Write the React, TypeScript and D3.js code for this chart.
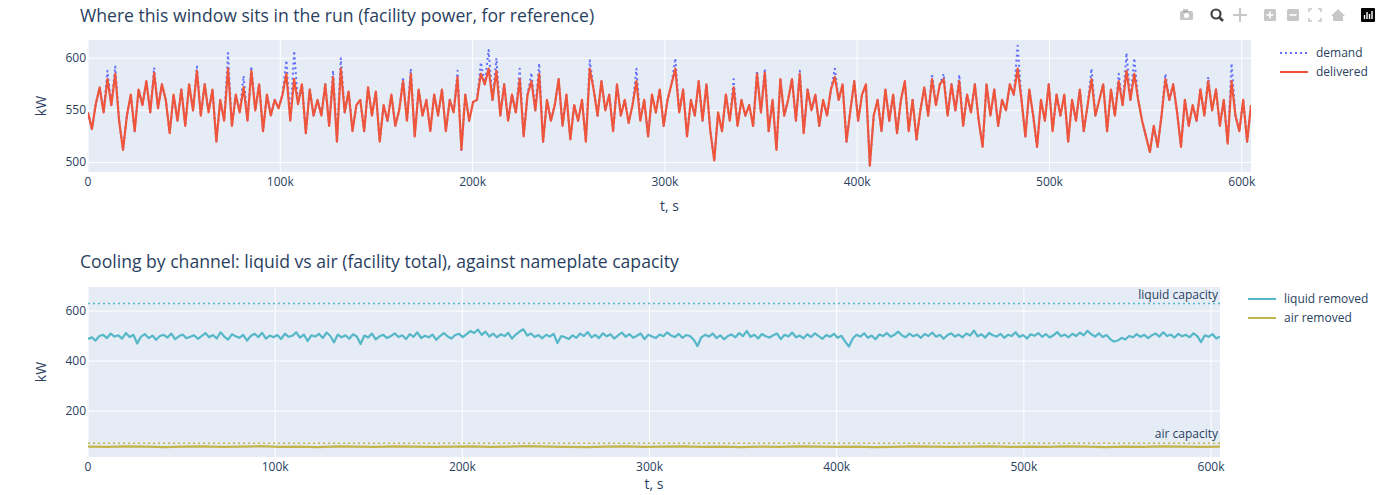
import * as d3 from 'd3'

// facility power, one sample every ~2 ks across the week-long run
const RUN_END_S = 604800

const delivered = [
  548, 532, 556, 572, 548, 580, 555, 585, 540, 512,
  545, 565, 530, 570, 555, 578, 548, 586, 552, 575,
  560, 528, 565, 540, 570, 535, 575, 550, 588, 545,
  575, 548, 570, 520, 560, 540, 590, 535, 565, 548,
  572, 540, 588, 550, 575, 530, 565, 545, 560, 552,
  565, 585, 540, 580, 556, 575, 528, 570, 545, 560,
  545, 575, 535, 582, 520, 590, 548, 568, 530, 555,
  560, 530, 572, 545, 568, 520, 555, 540, 565, 535,
  550, 578, 540, 585, 525, 570, 545, 560, 530, 565,
  545, 570, 530, 560, 548, 582, 512, 565, 540, 558,
  560, 585, 575, 590, 560, 588, 545, 575, 540, 565,
  548, 580, 525, 565, 578, 550, 585, 520, 560, 540,
  555, 580, 535, 565, 522, 555, 540, 560, 520, 590,
  570, 545, 578, 550, 565, 530, 575, 545, 560, 538,
  555, 578, 540, 560, 525, 565, 548, 570, 535, 560,
  575, 590, 548, 570, 525, 560, 545, 578, 540, 575,
  530, 502, 548, 530, 565, 540, 572, 535, 560, 545,
  555, 535, 585, 548, 586, 530, 560, 512, 580, 545,
  560, 580, 540, 585, 528, 570, 550, 565, 535, 560,
  545, 570, 582, 560, 575, 520, 550, 578, 540, 565,
  575, 497, 545, 560, 530, 570, 540, 565, 528, 560,
  578, 530, 560, 522, 550, 572, 545, 580, 555, 575,
  580, 545, 575, 550, 578, 535, 565, 548, 575, 540,
  515, 575, 545, 570, 535, 560, 550, 575, 565, 590,
  560, 525, 570, 545, 515, 560, 540, 575, 530, 565,
  545, 565, 520, 560, 540, 570, 530, 555, 580, 545,
  560, 575, 530, 570, 545, 578, 555, 588, 560, 585,
  560, 540, 525, 510, 535, 515, 545, 580, 560, 575,
  548, 515, 560, 535, 555, 540, 570, 545, 578, 550,
  570, 535, 560, 518, 578, 545, 530, 560, 520, 555,
]

// samples where demand ran above what was delivered: [sample index, demand kW]
const demandPeaks: [number, number][] = [
  [5, 588], [7, 592], [17, 591], [28, 592], [36, 605], [40, 583], [42, 592],
  [51, 598], [53, 607], [63, 588], [65, 600], [81, 582], [83, 590], [95, 588],
  [101, 596], [103, 608], [105, 600], [111, 590], [114, 586], [116, 595],
  [129, 598], [141, 590], [151, 600], [166, 580], [172, 588], [174, 590],
  [183, 588], [192, 590], [217, 585], [220, 585], [224, 584], [239, 612],
  [258, 590], [265, 585], [267, 605], [269, 600], [277, 585], [288, 582],
  [294, 595],
]

const liquidRemoved = [
  488, 495, 482, 500, 505, 492, 510, 498, 503, 490,
  512, 496, 505, 470, 498, 508, 492, 502, 485, 500,
  505, 494, 510, 488, 499, 506, 491, 497, 503, 489,
  500, 512, 495, 504, 490, 515, 498, 486, 507, 499,
  493, 505, 482, 500, 509, 496, 513, 490, 502, 495,
  504, 488, 510, 497, 501, 515, 494, 506, 480, 503,
  498, 509, 492, 514, 500, 475, 506, 495, 503, 489,
  507, 498, 468, 502, 494, 510, 487, 499, 505, 492,
  500, 511, 496, 503, 488, 508, 497, 515, 492, 501,
  495, 506, 485, 500, 512, 498, 490, 504, 509, 496,
  508, 520, 512, 526, 505, 518, 498, 510, 495, 507,
  500, 513, 490, 506, 518, 527, 502, 510, 496, 504,
  491, 505, 498, 509, 472, 500, 495, 488, 503, 493,
  510, 500, 516, 495, 505, 492, 511, 499, 507, 490,
  503, 514, 497, 508, 493, 501, 510, 488, 505, 498,
  492, 506, 499, 515, 502, 496, 509, 493, 504, 500,
  485, 460, 495, 505, 498, 510, 492, 503, 487, 500,
  506, 495, 512, 500, 521, 497, 505, 490, 508, 499,
  494, 503, 510, 488, 505, 498, 514, 495, 502, 491,
  507, 496, 511, 500, 489, 504, 497, 509, 493, 501,
  478, 458, 490, 505, 498, 511, 493, 502, 487, 506,
  500, 512, 497, 505, 518, 502, 495, 510, 499, 506,
  493, 508, 500, 514, 497, 505, 489, 503, 511, 498,
  506, 495, 510, 502, 522, 499, 507, 494, 512, 503,
  498, 509, 493, 505, 500, 515, 496, 504, 490, 507,
  501, 512, 497, 508, 494, 503, 516, 499, 506, 495,
  509, 500, 514, 503, 521, 507, 498, 511, 496, 504,
  488, 478, 482, 493, 486, 500, 495, 508, 497, 505,
  492, 503, 510, 498, 515, 500, 506, 494, 509, 499,
  505, 495, 511, 500, 476, 503, 497, 508, 490, 498,
]

const airRemoved = [
  58, 57, 59, 58, 56, 58, 59, 57, 58, 60,
  57, 58, 56, 59, 58, 57, 59, 58, 57, 58,
  59, 57, 58, 60, 58, 57, 56, 58, 59, 57,
  58, 59, 57, 58, 56, 58, 57, 59, 58, 57,
  58, 56, 57, 59, 58, 57, 58, 59, 57, 58,
  57, 59, 58, 56, 58, 57, 59, 58, 57, 58,
]

const LIQUID_CAPACITY_KW = 630
const AIR_CAPACITY_KW = 72

const xTicks = [0, 100000, 200000, 300000, 400000, 500000, 600000]
const powerTicks = [500, 550, 600]
const coolingTicks = [200, 400, 600]

const FONT = '"Open Sans", verdana, arial, sans-serif'
const INK = '#2a3f5f'
const BG = '#E5ECF6'
const C_DEMAND = '#636efa'
const C_DELIVERED = '#EF553B'
const C_LIQUID = '#55b7c8'
const C_AIR = '#c4b44c'

type Pt = [number, number]
const series = (vals: number[]): Pt[] =>
  vals.map((v, i) => [(i * RUN_END_S) / (vals.length - 1), v])

interface PanelProps {
  top: number
  bottom: number
  left: number
  right: number
  yDomain: [number, number]
  yTicks: number[]
  children: (x: d3.ScaleLinear<number, number>, y: d3.ScaleLinear<number, number>) => React.ReactNode
}

function Panel({ top, bottom, left, right, yDomain, yTicks, children }: PanelProps) {
  const x = d3.scaleLinear().domain([0, RUN_END_S]).range([left, right])
  const y = d3.scaleLinear().domain(yDomain).range([bottom, top])
  const fmt = d3.format('~s')
  return (
    <g>
      <rect x={left} y={top} width={right - left} height={bottom - top} fill={BG} />
      {xTicks.map((t) => (
        <line key={'gx' + t} x1={x(t)} x2={x(t)} y1={top} y2={bottom} stroke="#fff" strokeWidth={1} />
      ))}
      {yTicks.map((t) => (
        <line key={'gy' + t} x1={left} x2={right} y1={y(t)} y2={y(t)} stroke="#fff" strokeWidth={1} />
      ))}
      <clipPath id={'clip' + top}>
        <rect x={left} y={top} width={right - left} height={bottom - top} />
      </clipPath>
      <g clipPath={`url(#clip${top})`}>{children(x, y)}</g>
      {xTicks.map((t) => (
        <text key={'tx' + t} x={x(t)} y={bottom + 14} textAnchor="middle" fontSize={12} fill={INK}>
          {t === 0 ? '0' : fmt(t)}
        </text>
      ))}
      {yTicks.map((t) => (
        <text key={'ty' + t} x={left - 2} y={y(t) + 4} textAnchor="end" fontSize={12} fill={INK}>
          {t}
        </text>
      ))}
      <text x={(left + right) / 2} y={Math.min(bottom + 39, 489)} textAnchor="middle" fontSize={14} fill={INK}>
        t, s
      </text>
      <text
        transform={`translate(46,${(top + bottom) / 2}) rotate(-90)`}
        textAnchor="middle"
        fontSize={14}
        fill={INK}
      >
        kW
      </text>
    </g>
  )
}

function LegendItem({ x, y, color, dash, label }: { x: number; y: number; color: string; dash?: string; label: string }) {
  return (
    <g>
      <line x1={x} x2={x + 28} y1={y} y2={y} stroke={color} strokeWidth={2} strokeDasharray={dash} />
      <text x={x + 36} y={y + 4} fontSize={12} fill={INK}>
        {label}
      </text>
    </g>
  )
}

function ModeBar() {
  const grey = 'rgba(68,68,68,0.3)'
  return (
    <g>
      <rect x={1180} y={11} width={13} height={9} rx={1.5} fill={grey} />
      <rect x={1183} y={9} width={5} height={3} fill={grey} />
      <circle cx={1186.5} cy={15.5} r={2.6} fill="#fff" />
      <circle cx={1216} cy={14} r={4.5} fill="none" stroke="#444" strokeWidth={2.2} />
      <line x1={1219} y1={17} x2={1223} y2={21} stroke="#444" strokeWidth={2.6} />
      <path d="M1240 8 v14 M1233 15 h14" stroke={grey} strokeWidth={2} />
      <rect x={1264} y={9} width={12} height={12} rx={1.5} fill={grey} />
      <path d="M1270 11.5 v7 M1266.5 15 h7" stroke="#fff" strokeWidth={1.6} />
      <rect x={1287} y={9} width={12} height={12} rx={1.5} fill={grey} />
      <path d="M1289.5 15 h7" stroke="#fff" strokeWidth={1.6} />
      <path d="M1309 12 v-3 h3 M1318 9 h3 v3 M1321 18 v3 h-3 M1312 21 h-3 v-3" fill="none" stroke={grey} strokeWidth={1.5} />
      <path d="M1331 16 l7 -7 l7 7 h-2 v5 h-10 v-5 z" fill={grey} />
      <rect x={1361} y={8} width={14} height={14} rx={1} fill="#000" />
      <path d="M1364.5 19 v-4 M1367 19 v-7 M1369.5 19 v-5 M1372 19 v-8" stroke="#fff" strokeWidth={1.4} />
    </g>
  )
}

export default function App() {
  const line = (x: d3.ScaleLinear<number, number>, y: d3.ScaleLinear<number, number>) =>
    d3
      .line<Pt>()
      .x((d) => x(d[0]))
      .y((d) => y(d[1]))

  const peakMap = new Map(demandPeaks)
  const demand = delivered.map((v, i) => peakMap.get(i) ?? v)

  return (
    <svg
      width={1400}
      height={495}
      style={{ position: 'absolute', left: 0, top: 0, fontFamily: FONT }}
    >
      <rect width={1400} height={495} fill="#fff" />
      <ModeBar />

      <text x={80} y={22} fontSize={17.6} fill={INK}>
        Where this window sits in the run (facility power, for reference)
      </text>
      <Panel top={40} bottom={172} left={88} right={1251} yDomain={[490.8, 617.5]} yTicks={powerTicks}>
        {(x, y) => (
          <g fill="none" strokeLinejoin="round">
            <path d={line(x, y)(series(demand)) ?? ''} stroke={C_DEMAND} strokeWidth={2} strokeDasharray="2,3" />
            <path d={line(x, y)(series(delivered)) ?? ''} stroke={C_DELIVERED} strokeWidth={2.2} />
          </g>
        )}
      </Panel>
      <LegendItem x={1280} y={53} color={C_DEMAND} dash="2,3" label="demand" />
      <LegendItem x={1280} y={72} color={C_DELIVERED} label="delivered" />

      <text x={80} y={268} fontSize={17.6} fill={INK}>
        Cooling by channel: liquid vs air (facility total), against nameplate capacity
      </text>
      <Panel top={287} bottom={457} left={88} right={1220} yDomain={[16.7, 696]} yTicks={coolingTicks}>
        {(x, y) => (
          <g fill="none" strokeLinejoin="round">
            <line x1={x(0)} x2={x(RUN_END_S)} y1={y(LIQUID_CAPACITY_KW)} y2={y(LIQUID_CAPACITY_KW)} stroke={C_LIQUID} strokeWidth={1.5} strokeDasharray="2,3" />
            <line x1={x(0)} x2={x(RUN_END_S)} y1={y(AIR_CAPACITY_KW)} y2={y(AIR_CAPACITY_KW)} stroke={C_AIR} strokeWidth={1.5} strokeDasharray="2,3" />
            <path d={line(x, y)(series(liquidRemoved)) ?? ''} stroke={C_LIQUID} strokeWidth={2.2} />
            <path d={line(x, y)(series(airRemoved)) ?? ''} stroke={C_AIR} strokeWidth={2.2} />
            <text x={x(RUN_END_S) - 2} y={y(LIQUID_CAPACITY_KW) - 5} textAnchor="end" fontSize={12} fill={INK} stroke="none">
              liquid capacity
            </text>
            <text x={x(RUN_END_S) - 2} y={y(AIR_CAPACITY_KW) - 5} textAnchor="end" fontSize={12} fill={INK} stroke="none">
              air capacity
            </text>
          </g>
        )}
      </Panel>
      <LegendItem x={1248} y={299} color={C_LIQUID} label="liquid removed" />
      <LegendItem x={1248} y={318} color={C_AIR} label="air removed" />
    </svg>
  )
}
